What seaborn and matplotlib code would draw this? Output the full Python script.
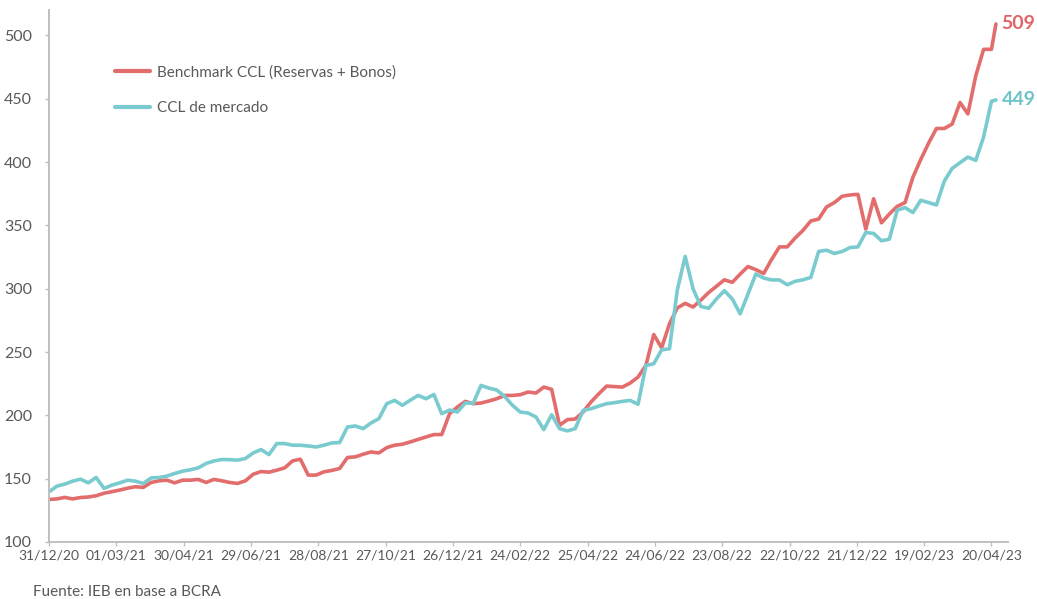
import pandas as pd
import matplotlib
matplotlib.use("Agg")
import matplotlib.pyplot as plt
import matplotlib.dates as mdates
import seaborn as sns

# --- data (weekly) ---
start_date = "2020-12-31"
n_weeks = 121
last_date = "2023-04-24"

benchmark = [
    133.6, 134, 135.2, 134, 135.1, 135.5, 136.5, 138.5, 139.7, 141,
    142.5, 143.6, 143.1, 147, 148.3, 148.8, 146.7, 148.8, 148.8, 149.4,
    147, 149.4, 148.3, 147, 146.2, 148.3, 153.5, 155.6, 155.1, 156.7,
    158.5, 164, 165.4, 152.8, 152.8, 155.4, 156.5, 158, 166.7, 167.2,
    169.3, 171.1, 170.3, 174.5, 176.4, 177.2, 179, 181, 182.9, 184.8,
    184.8, 201.3, 206.6, 211, 209.2, 209.7, 211.3, 213.1, 215.7, 215.7,
    216.3, 218.4, 217.6, 222.3, 220.5, 192.1, 196.6, 197.1, 202.6, 210.5,
    217, 223.1, 222.7, 222.3, 225.5, 230.2, 239.4, 263.8, 253.3, 272.2,
    284.8, 288.4, 285.5, 291, 297, 302, 307, 305, 311.5, 317.5,
    315, 312, 323, 333, 333, 340, 346, 353.5, 355, 364.5,
    368, 373, 374, 374.5, 347, 371, 352, 359, 365, 368,
    388, 402, 415, 426.5, 426.5, 430, 447, 438, 468, 489,
    489, 509,
]

mercado = [
    139.6, 144.1, 145.7, 148, 149.6, 146.7, 150.9, 142.3, 144.9, 146.7,
    148.8, 148, 146.2, 150.6, 150.9, 152, 154.1, 155.9, 157, 158.5,
    162, 164, 165.1, 165, 164.6, 165.9, 170.3, 173, 169, 177.7,
    177.7, 176.4, 176.4, 175.8, 175, 176.4, 178.2, 178.5, 190.8, 191.6,
    189.5, 194, 197.4, 209.2, 211.8, 207.9, 212, 215.7, 213.1, 216.5,
    201.3, 204.2, 202.6, 209.8, 209.4, 223.6, 221.5, 220, 215, 208,
    202.6, 201.8, 198.7, 188.7, 200.5, 189.5, 187.7, 189.5, 203.9, 205.2,
    207.3, 209.2, 210, 211, 211.8, 208.7, 239.4, 240.7, 251.7, 252.5,
    299, 325.5, 300, 286, 284.5, 292, 298.4, 291.9, 280.1, 295.8,
    311.6, 308.4, 306.9, 306.9, 303.1, 305.8, 307, 308.9, 329.4, 330.4,
    327.8, 329.4, 332.5, 333, 344.4, 343.6, 337.8, 339.1, 362, 364,
    360.1, 369.8, 368, 366.1, 385, 395, 399.5, 403.9, 401.3, 419.7,
    448, 449,
]

series_names = ["Benchmark CCL (Reservas + Bonos)", "CCL de mercado"]
colors = ["#E36D6D", "#7ACBCF"]
label_colors = ["#E06464", "#6DC4C9"]

dates = list(pd.date_range(start_date, periods=n_weeks, freq="7D")) + [pd.Timestamp(last_date)]

df = pd.DataFrame({"fecha": dates, series_names[0]: benchmark, series_names[1]: mercado})
long_df = df.melt(id_vars="fecha", var_name="serie", value_name="valor")

# --- plot ---
sns.set_theme(style="white")
plt.rcParams["font.family"] = ["Lato", "DejaVu Sans"]

fig = plt.figure(figsize=(10.37, 5.99), dpi=100)
ax = fig.add_axes([0.0473, 0.0952, 0.925, 0.888])

sns.lineplot(data=long_df, x="fecha", y="valor", hue="serie", hue_order=series_names,
             palette=colors, linewidth=2.6, ax=ax)

ax.set_ylim(100, 520)
ax.set_yticks(range(100, 501, 50))
ax.set_xlim(pd.Timestamp(start_date), pd.Timestamp(start_date) + pd.Timedelta(days=855))
ax.set_xticks(pd.date_range(start_date, periods=15, freq="60D"))
ax.xaxis.set_major_formatter(mdates.DateFormatter("%d/%m/%y"))
ax.set_xlabel("")
ax.set_ylabel("")

for side in ["top", "right"]:
    ax.spines[side].set_visible(False)
for side in ["left", "bottom"]:
    ax.spines[side].set_color("#BFBFBF")
    ax.spines[side].set_linewidth(1.4)
ax.tick_params(axis="both", which="major", length=2.8, width=1, color="#BFBFBF",
               labelcolor="#595959", direction="out")
ax.tick_params(axis="x", bottom=True, labelsize=10, pad=2.5)
ax.tick_params(axis="y", left=True, labelsize=11.5, pad=9.5)

leg = ax.legend(loc="upper left", bbox_to_anchor=(0.069, 0.896), frameon=False,
                fontsize=11, handlelength=2.3, handletextpad=0.45, labelspacing=1.4,
                borderpad=0, borderaxespad=0)
for txt in leg.get_texts():
    txt.set_color("#595959")
for line in leg.get_lines():
    line.set_linewidth(3)

for vals, col in zip([benchmark, mercado], label_colors):
    ax.annotate(f"{vals[-1]:.0f}", xy=(dates[-1], vals[-1]), xytext=(4, 0),
                textcoords="offset points", va="center", ha="left",
                fontsize=14, fontweight="bold", color=col)

fig.text(33 / 1037, 1 - 592 / 599, "Fuente: IEB en base a BCRA", fontsize=11,
         color="#595959", va="center", ha="left")

fig.savefig("out.png", dpi=100)
